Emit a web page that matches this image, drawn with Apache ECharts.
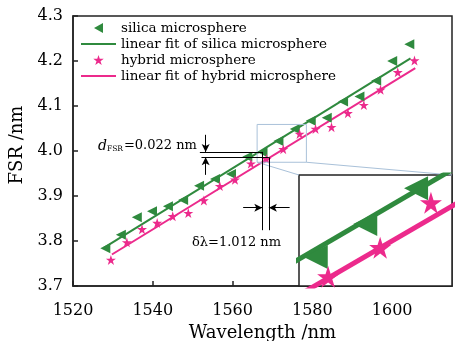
<!DOCTYPE html>
<html>
<head>
<meta charset="utf-8">
<script src="https://cdn.jsdelivr.net/npm/echarts@6/dist/echarts.min.js"></script>
<style>html,body{margin:0;padding:0;background:#fff;}#c{width:460px;height:341px;}</style>
</head>
<body>
<div id="c"></div>
<script>
// ---- data ----
var silicaX = [1528.1,1532.0,1536.0,1539.8,1543.8,1547.6,1551.6,1555.6,1559.6,1563.7,1567.5,1571.5,1575.6,1579.6,1583.6,1587.7,1591.8,1596.0,1600.0,1604.3];
var silicaY = [3.784,3.814,3.853,3.866,3.877,3.891,3.923,3.938,3.949,3.987,3.997,4.022,4.049,4.067,4.074,4.110,4.121,4.156,4.200,4.237];
var hybridX = [1529.5,1533.5,1537.3,1541.1,1545.0,1548.9,1552.8,1556.8,1560.6,1564.6,1568.5,1572.7,1576.8,1580.8,1584.8,1588.9,1592.9,1597.1,1601.4,1605.6];
var hybridY = [3.758,3.797,3.826,3.840,3.855,3.862,3.890,3.922,3.936,3.972,3.982,4.004,4.038,4.049,4.053,4.084,4.102,4.136,4.175,4.201];
var silicaFitX = [1527.6, 1604.6];
var silicaFitY = [3.784, 4.206];
var hybridFitX = [1529.75, 1605.8];
var hybridFitY = [3.770, 4.184];
var zoomX = [1566.15, 1578.5];
var zoomY = [3.975, 4.059];
var xTicks = [1520, 1540, 1560, 1580, 1600];
var seriesNames = ['silica microsphere','linear fit of silica microsphere','hybrid microsphere','linear fit of hybrid microsphere'];
// annotation geometry (data coordinates)
var dTopY = 3.998, dLowY = 3.986, dLeftX = 1551.8;
var lamA = 1567.45, lamB = 1569.1, vBottomY = 3.824;
var arrowX = 1553.25, arrowUpFrom = 4.036, arrowDownFrom = 3.947;
var arrowY = 3.874, arrowLeftFrom = 1562.65, arrowRightFrom = 1574.3;

function pairs(xs, ys){ return xs.map(function(x,i){ return [x, ys[i]]; }); }

var GREEN = '#2f8a3e', PINK = '#ec2a8c';
var FONT = 'DejaVu Serif';
var STAR = 'path://M50,0 L61.23,34.55 L97.55,34.55 L68.16,55.9 L79.39,90.45 L50,69.1 L20.61,90.45 L31.84,55.9 L2.45,34.55 L38.77,34.55 Z';
var TRI_LEFT = 'path://M0,5 L9,0 L9,10 Z';
var LINE_ICON = 'path://M0,0 L35,0 L35,2 L0,2 Z';

var chart = echarts.init(document.getElementById('c'), null, {renderer:'canvas'});

function ml(a, b, arrowEnd){
  return [
    {coord: a, symbol: 'none'},
    {coord: b, symbol: arrowEnd ? 'arrow' : 'none', symbolSize: arrowEnd ? [6,8] : 0}
  ];
}

var option = {
  backgroundColor: '#fff',
  animation: false,
  textStyle: {fontFamily: FONT, color: '#000'},
  grid: [
    {left: 73, top: 16, right: 8, bottom: 55, show: true, borderColor: '#222', borderWidth: 1.5,
     backgroundColor: '#fff', z: 0, outerBoundsMode: 'none', containLabel: false},
    {left: 299, top: 175, right: 8, bottom: 55, show: true, borderColor: '#222', borderWidth: 1.5,
     backgroundColor: '#fff', z: 3, outerBoundsMode: 'none', containLabel: false}
  ],
  legend: {
    orient: 'vertical', left: 81, top: 21,
    itemWidth: 35, itemHeight: 10, itemGap: 2,
    data: [
      {name: seriesNames[0], icon: TRI_LEFT},
      {name: seriesNames[1], icon: LINE_ICON},
      {name: seriesNames[2], icon: STAR},
      {name: seriesNames[3], icon: LINE_ICON}
    ],
    textStyle: {fontFamily: FONT, fontSize: 13.5, color: '#000', lineHeight: 10},
    backgroundColor: '#fff', padding: [0,0,0,0]
  },
  xAxis: [
    {gridIndex: 0, type: 'value', min: 1520, max: 1615, interval: 20,
     name: 'Wavelength /nm', nameLocation: 'middle', nameGap: 35,
     nameTextStyle: {fontFamily: FONT, fontSize: 18, color: '#000'},
     axisLine: {lineStyle: {color: '#222', width: 1.5}},
     axisTick: {inside: true, length: 5, lineStyle: {color: '#222', width: 1.5}},
     axisLabel: {fontFamily: FONT, fontSize: 16, color: '#000', margin: 17, showMaxLabel: false,
                 formatter: function(v){ return xTicks.indexOf(v) >= 0 ? String(v) : ''; }},
     splitLine: {show: false}},
    {gridIndex: 1, type: 'value', min: zoomX[0], max: zoomX[1],
     axisLine: {show: false}, axisTick: {show: false}, axisLabel: {show: false}, splitLine: {show: false}}
  ],
  yAxis: [
    {gridIndex: 0, type: 'value', min: 3.7, max: 4.3, interval: 0.1,
     name: 'FSR /nm', nameLocation: 'middle', nameGap: 36, nameRotate: 90,
     nameTextStyle: {fontFamily: FONT, fontSize: 18, color: '#000', padding: [0,0,0,12]},
     axisLine: {lineStyle: {color: '#222', width: 1.5}},
     axisTick: {inside: true, length: 5, lineStyle: {color: '#222', width: 1.5}},
     axisLabel: {fontFamily: FONT, fontSize: 16, color: '#000', margin: 10,
                 formatter: function(v){ return v.toFixed(1); }},
     splitLine: {show: false}},
    {gridIndex: 1, type: 'value', min: zoomY[0], max: zoomY[1],
     axisLine: {show: false}, axisTick: {show: false}, axisLabel: {show: false}, splitLine: {show: false}}
  ],
  series: [
    {name: seriesNames[0], type: 'scatter', xAxisIndex: 0, yAxisIndex: 0,
     data: pairs(silicaX, silicaY), symbol: 'triangle', symbolRotate: 90, symbolSize: 10,
     itemStyle: {color: GREEN, opacity: 1}, z: 3,
     markLine: {
       silent: true, animation: false, label: {show: false},
       lineStyle: {color: '#000', width: 1, type: 'solid'},
       emphasis: {disabled: true},
       data: [
         ml([dLeftX, dTopY], [lamA, dTopY], false),
         ml([dLeftX + 0.4, dLowY], [lamB, dLowY], false),
         ml([lamA, dTopY], [lamA, vBottomY], false),
         ml([lamB, dLowY], [lamB, vBottomY], false),
         ml([arrowX, arrowUpFrom], [arrowX, dTopY], true),
         ml([arrowX, arrowDownFrom], [arrowX, dLowY], true),
         ml([arrowLeftFrom, arrowY], [lamA, arrowY], true),
         ml([arrowRightFrom, arrowY], [lamB, arrowY], true)
       ]
     }},
    {name: seriesNames[1], type: 'line', xAxisIndex: 0, yAxisIndex: 0,
     data: pairs(silicaFitX, silicaFitY), symbol: 'none', showSymbol: false,
     lineStyle: {color: GREEN, width: 2}, itemStyle: {color: GREEN}, z: 2},
    {name: seriesNames[2], type: 'scatter', xAxisIndex: 0, yAxisIndex: 0,
     data: pairs(hybridX, hybridY), symbol: STAR, symbolSize: 10,
     itemStyle: {color: PINK, opacity: 1}, z: 3},
    {name: seriesNames[3], type: 'line', xAxisIndex: 0, yAxisIndex: 0,
     data: pairs(hybridFitX, hybridFitY), symbol: 'none', showSymbol: false,
     lineStyle: {color: PINK, width: 2}, itemStyle: {color: PINK}, z: 2},
    // inset (zoomed view)
    {name: seriesNames[1], type: 'line', xAxisIndex: 1, yAxisIndex: 1, clip: true,
     data: pairs(silicaFitX, silicaFitY), symbol: 'none', showSymbol: false,
     lineStyle: {color: GREEN, width: 5}, itemStyle: {color: GREEN}, z: 5},
    {name: seriesNames[3], type: 'line', xAxisIndex: 1, yAxisIndex: 1, clip: true,
     data: pairs(hybridFitX, hybridFitY), symbol: 'none', showSymbol: false,
     lineStyle: {color: PINK, width: 5}, itemStyle: {color: PINK}, z: 5},
    {name: seriesNames[0], type: 'scatter', xAxisIndex: 1, yAxisIndex: 1, clip: true,
     data: pairs(silicaX, silicaY), symbol: 'triangle', symbolRotate: 90, symbolSize: 24,
     itemStyle: {color: GREEN, opacity: 1}, z: 6},
    {name: seriesNames[2], type: 'scatter', xAxisIndex: 1, yAxisIndex: 1, clip: true,
     data: pairs(hybridX, hybridY), symbol: STAR, symbolSize: 22,
     itemStyle: {color: PINK, opacity: 1}, z: 6}
  ]
};
chart.setOption(option);

// zoom box + connector lines + annotation texts
var p1 = chart.convertToPixel({gridIndex: 0}, [zoomX[0], zoomY[1]]);
var p2 = chart.convertToPixel({gridIndex: 0}, [zoomX[1], zoomY[0]]);
var q1 = chart.convertToPixel({gridIndex: 1}, [zoomX[0], zoomY[1]]);
var q2 = chart.convertToPixel({gridIndex: 1}, [zoomX[1], zoomY[1]]);
var boxColor = '#a9c1d9';
chart.setOption({
  graphic: [
    {type: 'rect', z: 4, shape: {x: p1[0], y: p1[1], width: p2[0]-p1[0], height: p2[1]-p1[1]},
     style: {fill: 'none', stroke: boxColor, lineWidth: 1}},
    {type: 'line', z: 4, shape: {x1: p1[0], y1: p2[1], x2: q1[0], y2: q1[1]}, style: {stroke: boxColor, lineWidth: 1}},
    {type: 'line', z: 4, shape: {x1: p2[0], y1: p2[1], x2: q2[0], y2: q2[1]}, style: {stroke: boxColor, lineWidth: 1}},
    {type: 'text', z: 10, x: 98, y: 146,
     style: {text: '{d|d}{s|FSR}{n|=0.022 nm}', verticalAlign: 'middle', align: 'left',
       rich: {
         d: {fontFamily: FONT, fontStyle: 'italic', fontSize: 14, fill: '#000'},
         s: {fontFamily: FONT, fontSize: 7.5, fill: '#000', padding: [7,1,0,0]},
         n: {fontFamily: FONT, fontSize: 13, fill: '#000'}
       }}},
    {type: 'text', z: 10, x: 192, y: 243,
     style: {text: 'δλ=1.012 nm', fontFamily: FONT, fontSize: 13, fill: '#000', verticalAlign: 'middle', align: 'left'}}
  ]
});
</script>
</body>
</html>
